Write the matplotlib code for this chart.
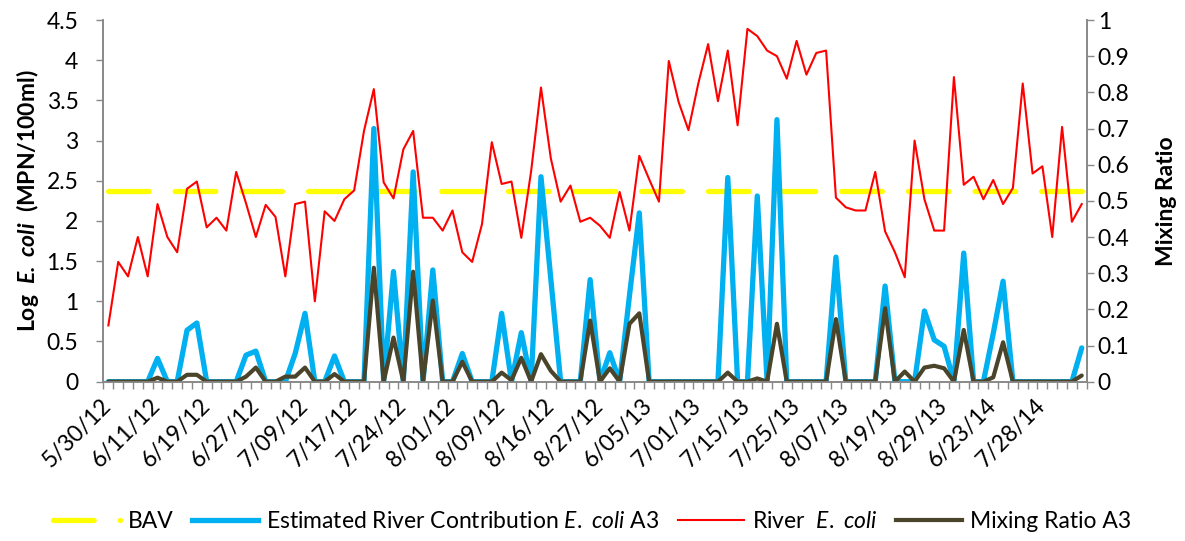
import matplotlib
matplotlib.use("Agg")
import matplotlib.pyplot as plt
from matplotlib.lines import Line2D
import numpy as np

# ---------------- data ----------------
tick_labels = ["5/30/12", "6/11/12", "6/19/12", "6/27/12", "7/09/12", "7/17/12",
               "7/24/12", "8/01/12", "8/09/12", "8/16/12", "8/27/12", "6/05/13",
               "7/01/13", "7/15/13", "7/25/13", "8/07/13", "8/19/13", "8/29/13",
               "6/23/14", "7/28/14"]

river_ecoli = [0.70, 1.49, 1.31, 1.80, 1.31, 2.21, 1.80, 1.61, 2.40, 2.49,
               1.92, 2.04, 1.88, 2.61, 2.22, 1.80, 2.20, 2.05, 1.31, 2.21,
               2.24, 1.00, 2.12, 2.00, 2.27, 2.38, 3.12, 3.64, 2.48, 2.28,
               2.89, 3.12, 2.04, 2.04, 1.88, 2.13, 1.61, 1.49, 1.96, 2.98,
               2.46, 2.49, 1.79, 2.62, 3.66, 2.78, 2.24, 2.44, 1.99, 2.04,
               1.94, 1.79, 2.36, 1.88, 2.81, 2.52, 2.24, 3.99, 3.48, 3.13,
               3.71, 4.20, 3.49, 4.12, 3.19, 4.39, 4.30, 4.12, 4.05, 3.77,
               4.24, 3.82, 4.09, 4.12, 2.29, 2.17, 2.13, 2.13, 2.61, 1.87,
               1.61, 1.30, 3.00, 2.27, 1.88, 1.88, 3.79, 2.45, 2.55, 2.27,
               2.51, 2.21, 2.41, 3.71, 2.59, 2.68, 1.80, 3.17, 1.99, 2.21]

river_contribution = [0, 0, 0, 0, 0, 0.29, 0, 0, 0.64, 0.73,
                      0, 0, 0, 0, 0.33, 0.38, 0, 0, 0, 0.35,
                      0.85, 0, 0, 0.32, 0, 0, 0, 3.15, 0, 1.37,
                      0, 2.61, 0, 1.39, 0, 0, 0.35, 0, 0, 0,
                      0.85, 0, 0.61, 0, 2.55, 1.28, 0, 0, 0, 1.27,
                      0, 0.36, 0, 1.07, 2.10, 0, 0, 0, 0, 0,
                      0, 0, 0, 2.54, 0, 0, 2.31, 0, 3.26, 0,
                      0, 0, 0, 0, 1.55, 0, 0, 0, 0, 1.19,
                      0, 0, 0, 0.88, 0.52, 0.44, 0, 1.60, 0, 0,
                      0.60, 1.25, 0, 0, 0, 0, 0, 0, 0, 0.42]

mixing_ratio = [0, 0, 0, 0, 0, 0.011, 0, 0, 0.019, 0.019,
                0, 0, 0, 0, 0.014, 0.039, 0, 0, 0.014, 0.014,
                0.039, 0, 0, 0.021, 0, 0, 0, 0.315, 0, 0.122,
                0, 0.304, 0, 0.224, 0, 0, 0.055, 0, 0, 0,
                0.025, 0.004, 0.066, 0, 0.076, 0.030, 0, 0, 0, 0.169,
                0, 0.037, 0, 0.160, 0.189, 0, 0, 0, 0, 0,
                0, 0, 0, 0.025, 0, 0, 0.009, 0, 0.160, 0,
                0, 0, 0, 0, 0.173, 0, 0, 0, 0, 0.203,
                0, 0.028, 0, 0.039, 0.044, 0.037, 0, 0.143, 0, 0,
                0.012, 0.109, 0, 0, 0, 0, 0, 0, 0, 0.017]

bav_value = 2.371  # log10(235)
label_step = 5

# ---------------- style ----------------
FONT = "Lato"
plt.rcParams["font.family"] = [FONT, "DejaVu Sans"]
plt.rcParams["mathtext.fontset"] = "custom"
plt.rcParams["mathtext.rm"] = FONT
plt.rcParams["mathtext.it"] = FONT + ":italic"
plt.rcParams["mathtext.bf"] = FONT + ":bold"
plt.rcParams["mathtext.bfit"] = FONT + ":bold:italic"

GRAY = "#898989"
FS = 16.5
BAV_DASH = (0, (7.7, 4.93))

n = len(river_ecoli)
x = np.arange(n)

fig = plt.figure(figsize=(11.85, 5.41), dpi=100)
ax = fig.add_axes([0.0873, 0.2945, 0.917 - 0.0873, 0.963 - 0.2945])
ax2 = ax.twinx()

ax.plot(x, [bav_value] * n, color="#FFFF00", lw=3.8, dash_capstyle="round",
        linestyle=BAV_DASH, zorder=1)
ax.plot(x, river_contribution, color="#00B0F0", lw=3.8, solid_joinstyle="round",
        solid_capstyle="round", zorder=2)
ax.plot(x, river_ecoli, color="#FF0000", lw=1.5, zorder=3)
ax2.plot(x, mixing_ratio, color="#4A452A", lw=3.0, solid_joinstyle="round",
         solid_capstyle="round")

ax.set_xlim(-0.5, n - 0.5)
ax.set_ylim(0, 4.5)
ax2.set_ylim(0, 1)

ax.set_yticks(np.arange(0, 4.51, 0.5))
ax.set_yticklabels(["0", "0.5", "1", "1.5", "2", "2.5", "3", "3.5", "4", "4.5"],
                   fontsize=FS)
ax2.set_yticks(np.arange(0, 1.01, 0.1))
ax2.set_yticklabels(["0", "0.1", "0.2", "0.3", "0.4", "0.5", "0.6", "0.7",
                     "0.8", "0.9", "1"], fontsize=FS)

ax.set_xticks(np.arange(-0.5, n, 1.0), minor=True)
ax.set_xticks(x[::label_step])
ax.set_xticklabels(tick_labels, rotation=45, ha="right", va="center",
                   rotation_mode="anchor", fontsize=FS)
ax.tick_params(axis="x", which="major", length=0, pad=15)
ax.tick_params(axis="x", which="minor", length=5, color=GRAY, width=1)
ax.tick_params(axis="y", length=5, color=GRAY, width=1, pad=13)
ax2.tick_params(axis="y", length=5, color=GRAY, width=1, pad=3)

for a in (ax, ax2):
    a.spines["top"].set_visible(False)
    for s in ("left", "right", "bottom"):
        a.spines[s].set_color(GRAY)
        a.spines[s].set_linewidth(1.2)

ax.set_ylabel(r"Log  $\mathbfit{E.\ coli}$  (MPN/100ml)", fontsize=FS,
              fontweight="bold", labelpad=4)
ax2.set_ylabel("Mixing Ratio", fontsize=FS, fontweight="bold", labelpad=19)

handles = [
    Line2D([], [], color="#FFFF00", lw=3.8, linestyle=BAV_DASH, dash_capstyle="round"),
    Line2D([], [], color="#00B0F0", lw=3.8),
    Line2D([], [], color="#FF0000", lw=1.5),
    Line2D([], [], color="#4A452A", lw=3.0),
]
labels = ["BAV", r"Estimated River Contribution $\mathit{E.\ coli}$ A3",
          r"River  $\mathit{E.\ coli}$", "Mixing Ratio A3"]
fig.legend(handles, labels, loc="center", bbox_to_anchor=(0.5, 1 - 522 / 541),
           ncol=4, frameon=False, fontsize=FS, handlelength=2.9,
           handletextpad=0.35, columnspacing=0.8)

fig.savefig("out.png", dpi=100)
